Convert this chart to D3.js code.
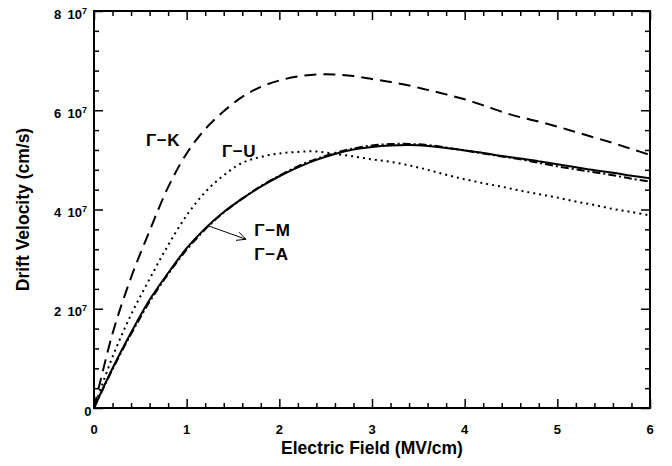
<!DOCTYPE html>
<html>
<head>
<meta charset="utf-8">
<script src="https://cdn.jsdelivr.net/npm/d3@7/dist/d3.min.js"></script>
<style>
  html, body { margin: 0; padding: 0; background: #fff; }
  svg { display: block; }
  text { font-family: "Liberation Sans", Arial, Helvetica, sans-serif; font-weight: bold; fill: #000; }
</style>
</head>
<body>
<svg id="chart" width="672" height="466"></svg>
<script>
// Electric field grid (MV/cm)
const fieldMV = [0.0, 0.2, 0.4, 0.6, 0.8, 1.0, 1.2, 1.4, 1.6, 1.8, 2.0,
                 2.2, 2.4, 2.6, 2.8, 3.0, 3.2, 3.4, 3.6, 3.8, 4.0,
                 4.2, 4.4, 4.6, 4.8, 5.0, 5.2, 5.4, 5.6, 5.8, 6.0];

// Drift velocity along each direction, in units of 1e7 cm/s
const velGK = [0.00, 1.50, 2.63, 3.57, 4.45, 5.13, 5.62, 5.98, 6.27, 6.47, 6.60,
               6.68, 6.72, 6.72, 6.69, 6.63, 6.57, 6.50, 6.41, 6.32, 6.22,
               6.10, 5.97, 5.86, 5.77, 5.67, 5.56, 5.45, 5.34, 5.22, 5.10];
const velGU = [0.00, 1.03, 1.88, 2.60, 3.28, 3.88, 4.35, 4.69, 4.94, 5.06, 5.13,
               5.16, 5.17, 5.12, 5.07, 5.01, 4.96, 4.89, 4.80, 4.70, 4.61,
               4.53, 4.46, 4.38, 4.31, 4.24, 4.16, 4.09, 4.01, 3.95, 3.88];
const velGM = [0.00, 0.80, 1.52, 2.18, 2.72, 3.22, 3.62, 3.95, 4.22, 4.46, 4.67,
               4.85, 5.00, 5.12, 5.21, 5.26, 5.29, 5.30, 5.28, 5.24, 5.19,
               5.14, 5.08, 5.03, 4.97, 4.91, 4.85, 4.79, 4.74, 4.68, 4.63];
const velGA = [0.00, 0.78, 1.49, 2.14, 2.70, 3.19, 3.60, 3.94, 4.22, 4.47, 4.68,
               4.87, 5.02, 5.14, 5.23, 5.29, 5.32, 5.32, 5.30, 5.25, 5.19,
               5.13, 5.07, 5.01, 4.94, 4.87, 4.81, 4.75, 4.69, 4.62, 4.56];

// Axis ticks
const xTicks = [0, 1, 2, 3, 4, 5, 6];
const xTickLabels = ["0", "1", "2", "3", "4", "5", "6"];
const yTicks = [0, 2, 4, 6, 8];
const yTickMantissa = ["0", "2", "4", "6", "8"];
const yTickExponent = "7";

const xTitle = "Electric Field (MV/cm)";
const yTitle = "Drift Velocity (cm/s)";

// Curve labels
const curveLabels = [
  { text: "Γ−K", x: 0.56, y: 5.27 },
  { text: "Γ−U", x: 1.38, y: 5.05 },
  { text: "Γ−M", x: 1.73, y: 3.46 },
  { text: "Γ−A", x: 1.73, y: 2.98 }
];

const svg = d3.select("#chart");
const W = 672, H = 466;
const margin = { left: 94, top: 11, right: 22, bottom: 58 };
const x0 = margin.left, x1 = W - margin.right;
const y0 = H - margin.bottom, y1 = margin.top;

svg.append("rect").attr("width", W).attr("height", H).attr("fill", "#fff");

const x = d3.scaleLinear().domain([0, 6]).range([x0, x1]);
const y = d3.scaleLinear().domain([0, 8]).range([y0, y1]);

const xMinor = d3.range(0, 6.0001, 0.2).filter(v => Math.abs(v - Math.round(v)) > 1e-6);
const yMinor = d3.range(0, 8.0001, 0.4).filter(v => Math.abs(v / 2 - Math.round(v / 2)) > 1e-6);

const MAJ = 9, MIN = 5;

function styleAxis(g) {
  g.select(".domain").remove();
  g.selectAll("line").attr("stroke", "#000").attr("stroke-width", 1.5);
  g.selectAll("text").remove();
}

// bottom / top
svg.append("g").attr("transform", `translate(0,${y0})`)
  .call(d3.axisBottom(x).tickValues(xTicks).tickSize(-MAJ).tickFormat(""))
  .call(styleAxis);
svg.append("g").attr("transform", `translate(0,${y0})`)
  .call(d3.axisBottom(x).tickValues(xMinor).tickSize(-MIN).tickFormat(""))
  .call(styleAxis);
svg.append("g").attr("transform", `translate(0,${y1})`)
  .call(d3.axisTop(x).tickValues(xTicks).tickSize(-MAJ).tickFormat(""))
  .call(styleAxis);
svg.append("g").attr("transform", `translate(0,${y1})`)
  .call(d3.axisTop(x).tickValues(xMinor).tickSize(-MIN).tickFormat(""))
  .call(styleAxis);
// left / right
svg.append("g").attr("transform", `translate(${x0},0)`)
  .call(d3.axisLeft(y).tickValues(yTicks).tickSize(-MAJ).tickFormat(""))
  .call(styleAxis);
svg.append("g").attr("transform", `translate(${x0},0)`)
  .call(d3.axisLeft(y).tickValues(yMinor).tickSize(-MIN).tickFormat(""))
  .call(styleAxis);
svg.append("g").attr("transform", `translate(${x1},0)`)
  .call(d3.axisRight(y).tickValues(yTicks).tickSize(-MAJ).tickFormat(""))
  .call(styleAxis);
svg.append("g").attr("transform", `translate(${x1},0)`)
  .call(d3.axisRight(y).tickValues(yMinor).tickSize(-MIN).tickFormat(""))
  .call(styleAxis);

// plot frame
svg.append("rect")
  .attr("x", x0).attr("y", y1)
  .attr("width", x1 - x0).attr("height", y0 - y1)
  .attr("fill", "none").attr("stroke", "#000").attr("stroke-width", 2);

// x tick labels
svg.append("g").selectAll("text").data(xTicks).join("text")
  .attr("x", d => x(d)).attr("y", y0 + 26)
  .attr("text-anchor", "middle").attr("font-size", 13)
  .text((d, i) => xTickLabels[i]);

// y tick labels: mantissa, "10" and superscript exponent
const yl = svg.append("g");
yTicks.forEach((d, i) => {
  if (d === 0) {
    yl.append("text").attr("x", x0 - 2.5).attr("y", y(d) + 7.5)
      .attr("text-anchor", "end").attr("font-size", 13).text(yTickMantissa[i]);
  } else {
    const t = yl.append("text").attr("x", x0 - 7).attr("y", y(d) + 7.5)
      .attr("text-anchor", "end").attr("font-size", 13);
    t.append("tspan").text(yTickMantissa[i] + "\u2009 10");
    t.append("tspan").attr("font-size", 9).attr("dy", -5).text(yTickExponent);
  }
});

// axis titles
svg.append("text").attr("x", (x0 + x1) / 2).attr("y", y0 + 46)
  .attr("text-anchor", "middle").attr("font-size", 17.5).text(xTitle);
svg.append("text")
  .attr("transform", `translate(29,${(y0 + y1) / 2}) rotate(-90)`)
  .attr("text-anchor", "middle").attr("font-size", 17.5).text(yTitle);

// curves
const line = d3.line()
  .x(d => x(d[0])).y(d => y(d[1]))
  .curve(d3.curveCatmullRom.alpha(0.5));

function drawCurve(vals, dash) {
  svg.append("path")
    .datum(fieldMV.map((e, i) => [e, vals[i]]))
    .attr("d", line)
    .attr("fill", "none").attr("stroke", "#000")
    .attr("stroke-width", 2)
    .attr("stroke-dasharray", dash);
}
drawCurve(velGK, "12,7");
drawCurve(velGU, "2,4");
drawCurve(velGA, "8,3,2,3");
drawCurve(velGM, null);

// curve labels
svg.append("g").selectAll("text").data(curveLabels).join("text")
  .attr("x", d => x(d.x)).attr("y", d => y(d.y))
  .attr("font-size", 17).attr("letter-spacing", 0.6)
  .text(d => d.text);

// pointer from the Γ−M / Γ−A labels to their curves
const arrowFrom = [1.22, 3.68], arrowTo = [1.64, 3.40];
const ax0 = x(arrowFrom[0]), ay0 = y(arrowFrom[1]);
const ax1 = x(arrowTo[0]), ay1 = y(arrowTo[1]);
const ang = Math.atan2(ay1 - ay0, ax1 - ax0);
const hl = 10, ha = 0.45;
svg.append("path")
  .attr("d", `M${ax0},${ay0}L${ax1},${ay1}` +
    `M${ax1 - hl * Math.cos(ang - ha)},${ay1 - hl * Math.sin(ang - ha)}L${ax1},${ay1}` +
    `L${ax1 - hl * Math.cos(ang + ha)},${ay1 - hl * Math.sin(ang + ha)}`)
  .attr("fill", "none").attr("stroke", "#000").attr("stroke-width", 1);
</script>
</body>
</html>
